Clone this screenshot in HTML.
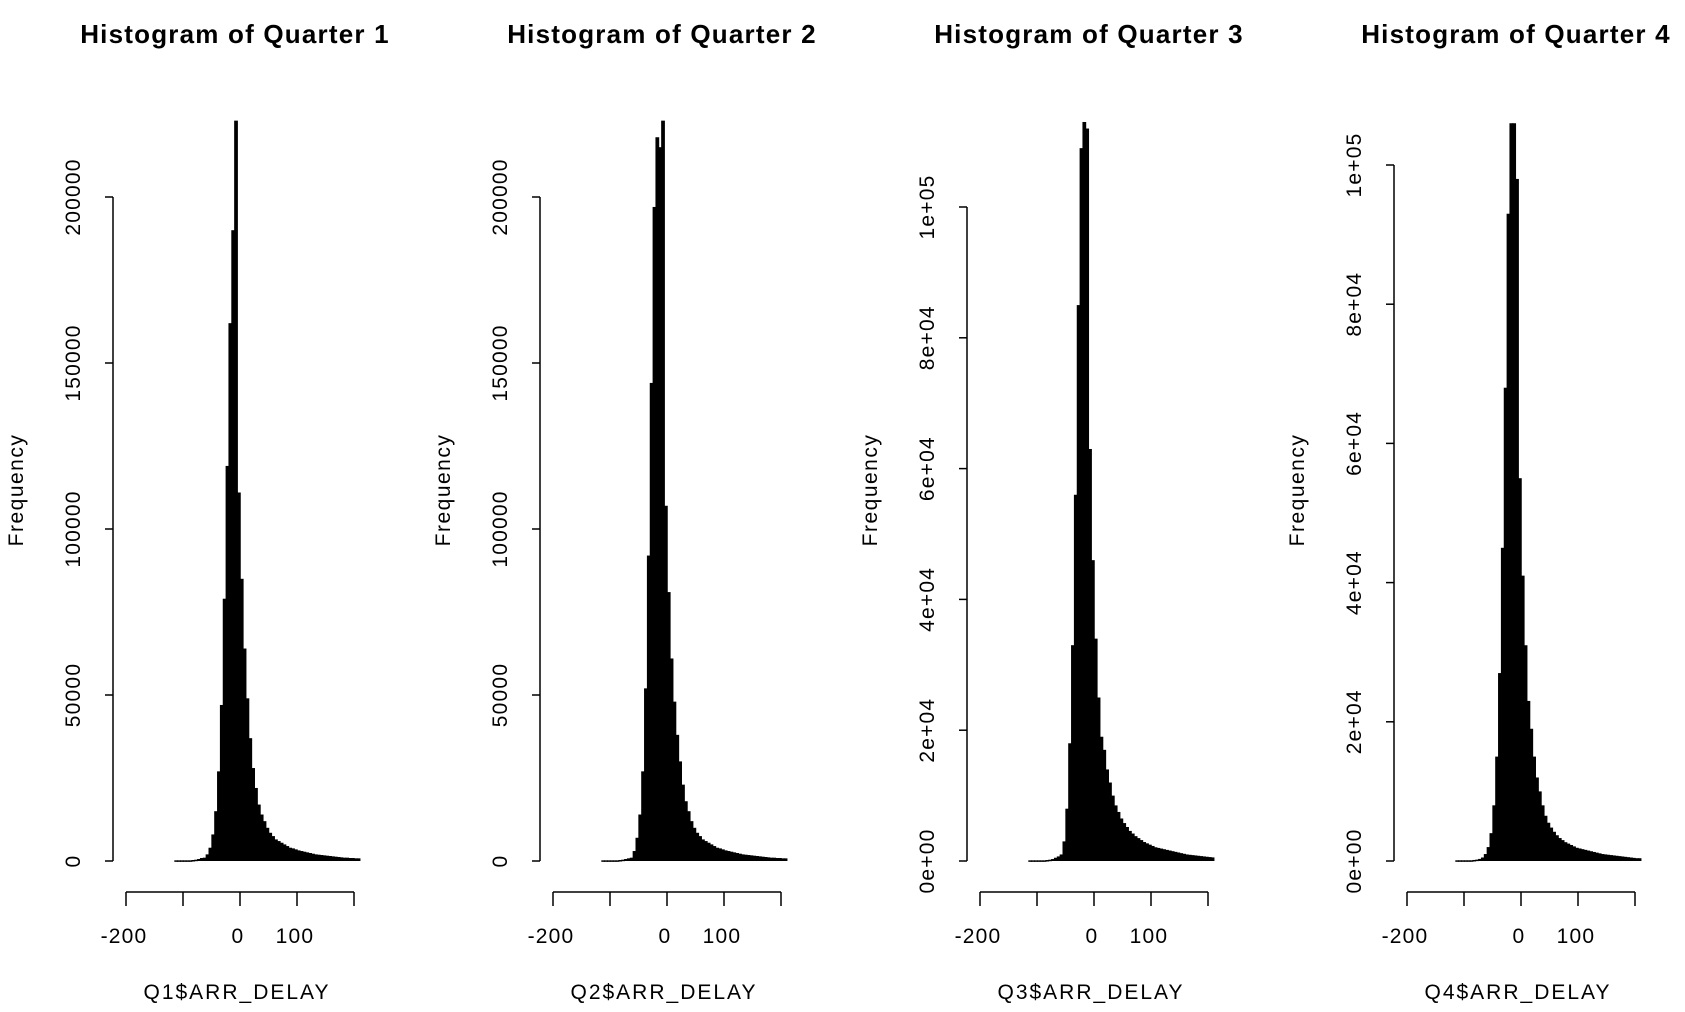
<!DOCTYPE html>
<html><head><meta charset="utf-8">
<style>
html,body{margin:0;padding:0;background:#fff;}
svg{display:block;font-family:"Liberation Sans",Arial,sans-serif;}
</style></head>
<body>
<svg id="chart" width="1685" height="1012" viewBox="0 0 1685 1012" xmlns="http://www.w3.org/2000/svg"></svg>
<script>
const binStarts = [];
for (let v = -110; v <= 210; v += 5) binStarts.push(v);
const binWidth = 5;
const quarterTitles = ["Histogram of Quarter 1","Histogram of Quarter 2","Histogram of Quarter 3","Histogram of Quarter 4"];
const xLabels = ["Q1$ARR_DELAY","Q2$ARR_DELAY","Q3$ARR_DELAY","Q4$ARR_DELAY"];
const q1Counts = [200,200,200,200,200,200,300,400,600,900,1000,2000,4000,8000,15000,27000,47000,79000,119000,162000,190000,223000,111000,85000,64000,49000,37000,28000,22000,17000,14000,12000,10000,8500,7500,6500,6000,5500,5000,4500,4000,3800,3500,3200,3000,2800,2600,2400,2200,2000,1900,1800,1700,1600,1500,1400,1300,1200,1100,1000,1000,900,900,800,800];
const q2Counts = [200,200,200,200,200,200,300,400,600,800,1000,3000,7000,14000,27000,52000,92000,144000,197000,218000,215000,223000,107000,81000,61000,48000,38000,30000,23000,18000,15000,12000,10000,8500,7500,6500,6000,5500,5000,4500,4000,3800,3500,3200,3000,2800,2600,2400,2200,2000,1900,1800,1700,1600,1500,1400,1300,1200,1100,1000,1000,900,900,800,800];
const q3Counts = [100,100,100,100,100,100,150,200,300,500,700,1000,3000,8000,18000,33000,56000,85000,109000,113000,112000,63000,46000,34000,25000,19000,17000,14000,12000,10000,8500,7500,6500,5800,5200,4600,4200,3800,3500,3200,2900,2700,2500,2300,2100,2000,1900,1800,1700,1600,1500,1400,1300,1200,1100,1000,950,900,850,800,750,700,650,600,550];
const q4Counts = [100,100,100,100,100,100,150,200,300,500,1000,2000,4000,8000,15000,27000,45000,68000,93000,106000,106000,98000,55000,41000,31000,23000,19000,15000,12000,10000,8000,6500,5500,4800,4200,3700,3300,3000,2700,2500,2300,2100,1900,1800,1700,1600,1500,1400,1300,1200,1100,1000,950,900,850,800,750,700,650,600,550,500,450,400,400];
const allCounts = [q1Counts,q2Counts,q3Counts,q4Counts];
const xTickValues = [-200,-100,0,100,200];
const xTickLabels = ["-200","","0","100",""];
const q12YTicks = [0,50000,100000,150000,200000];
const q12YLabels = ["0","50000","100000","150000","200000"];
const q34YTicks = [0,20000,40000,60000,80000,100000];
const q34YLabels = ["0e+00","2e+04","4e+04","6e+04","8e+04","1e+05"];

const svg = document.getElementById('chart');
const NS = "http://www.w3.org/2000/svg";
function mk(tag, attrs, parent){ const e=document.createElementNS(NS,tag); for(const k in attrs) e.setAttribute(k,attrs[k]); (parent||svg).appendChild(e); return e; }

const panelDx = 427;
const y0px = 861;
const topTickPx = [197,197,207,165];
const topTickVal = [200000,200000,100000,100000];

for (let q = 0; q < 4; q++) {
  const dx = q * panelDx;
  const xs = v => 237 + dx + v * 0.57;
  const xa = v => 240 + dx + v * 0.57;
  const ys = c => y0px - c * (y0px - topTickPx[q]) / topTickVal[q];
  const g = mk('g', {});
  
  

  const t = mk('text', {x: 235 + dx, y: 43, 'text-anchor':'middle', 'font-size':'26', 'font-weight':'bold', 'letter-spacing':'1.2', fill:'#000'}, g);
  t.textContent = quarterTitles[q];
  
  

  const barsG = mk('g', {}, g);
  
  
  const counts = allCounts[q];
  for (let i = 0; i < binStarts.length; i++) {
    const x1 = xs(binStarts[i]), x2 = xs(binStarts[i] + binWidth);
    const yt = ys(counts[i]);
    const r = mk('rect', {x: x1, y: yt, width: x2 - x1 + 0.9, height: Math.max(y0px - yt, 1.5), fill:'#000'}, barsG);
    
    
  }

  const yTicks = q < 2 ? q12YTicks : q34YTicks;
  const yLabs = q < 2 ? q12YLabels : q34YLabels;
  const yAx = mk('g', {}, g);
  
  
  const ax = 113 + dx;
  mk('line', {x1: ax, x2: ax, y1: ys(yTicks[yTicks.length-1]), y2: ys(0), stroke:'#000', 'stroke-width':1.5}, yAx);
  yTicks.forEach((v, i) => {
    const yy = ys(v);
    mk('line', {x1: ax - 8, x2: ax, y1: yy, y2: yy, stroke:'#000', 'stroke-width':1.5}, yAx);
    const lt = mk('text', {x: 0, y: 0, transform: `translate(${ax - 33},${yy}) rotate(-90)`, 'text-anchor':'middle', 'font-size':'21', 'letter-spacing':'1.2', fill:'#000'}, yAx);
    lt.textContent = yLabs[i];
    
    
  });
  const yt2 = mk('text', {x: 0, y: 0, transform: `translate(${23 + dx},490) rotate(-90)`, 'text-anchor':'middle', 'font-size':'21', 'letter-spacing':'1.5', fill:'#000'}, g);
  yt2.textContent = 'Frequency';
  
  

  const xAx = mk('g', {}, g);
  
  
  const ay = 892;
  mk('line', {x1: xa(-200), x2: xa(200), y1: ay, y2: ay, stroke:'#000', 'stroke-width':1.5}, xAx);
  xTickValues.forEach((v, i) => {
    mk('line', {x1: xa(v), x2: xa(v), y1: ay, y2: ay + 14, stroke:'#000', 'stroke-width':1.5}, xAx);
    if (xTickLabels[i]) {
      const lt = mk('text', {x: xa(v) - 2, y: 943, 'text-anchor':'middle', 'font-size':'21', 'letter-spacing':'1.2', fill:'#000'}, xAx);
      lt.textContent = xTickLabels[i];
      
      
    }
  });
  const xt = mk('text', {x: 237 + dx, y: 999, 'text-anchor':'middle', 'font-size':'21', 'letter-spacing':'2', fill:'#000'}, g);
  xt.textContent = xLabels[q];
  
  
}
</script>
</body></html>
